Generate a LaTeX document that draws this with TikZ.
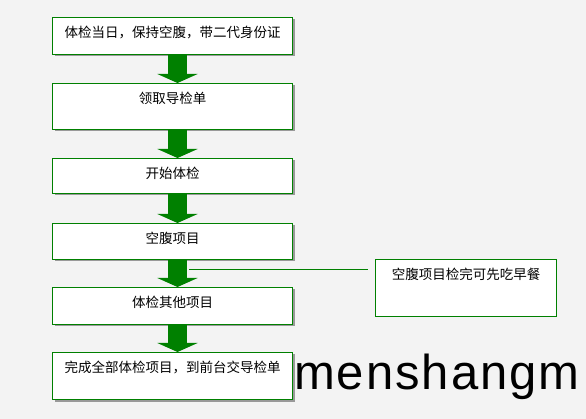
\documentclass[tikz,border=0pt]{standalone}
\usepackage{fontspec}
\newfontfamily\cjk{Noto Sans CJK SC}
\newfontfamily\wmfont[LetterSpace=4]{Liberation Sans}
\usepackage{tikz}
\usetikzlibrary{arrows.meta,positioning,calc,shadows}

\definecolor{flowgreen}{RGB}{0,128,0}
\definecolor{pagegray}{RGB}{243,243,243}

\tikzset{
    stepbox/.style={draw=flowgreen,line width=1pt,fill=white,anchor=north west,
        minimum width=240pt,inner xsep=0pt,inner ysep=10pt,text height=10pt,
        font=\cjk\fontsize{13.5pt}{15pt}\selectfont,
        drop shadow={shadow xshift=2pt,shadow yshift=-2pt,fill=black!40,opacity=1}},
    notebox/.style={draw=flowgreen,line width=1pt,fill=white,anchor=north west,
        minimum width=181pt,inner xsep=0pt,inner ysep=10pt,text height=10pt,
        font=\cjk\fontsize{13.5pt}{15pt}\selectfont},
    bigarrow/.style={draw=flowgreen,line width=19pt,-{Triangle[width=40pt,length=9pt,fill=flowgreen]}},
    callout/.style={draw=flowgreen,line width=1pt}
}

\begin{document}
\begin{tikzpicture}[x=1pt,y=-1pt]
        % Page
        \fill[pagegray] (0,0) rectangle (586,419);
        \useasboundingbox (0,0) rectangle (586,419);

        % Steps
        \node[stepbox,text depth=7pt] (b1) at (52,17) {体检当日，保持空腹，带二代身份证};
        \node[stepbox,text depth=16pt] (b2) at (52,83) {领取导检单};
        \node[stepbox,text depth=5pt] (b3) at (52,158) {开始体检};
        \node[stepbox,text depth=6pt] (b4) at (52,223) {空腹项目};
        \node[stepbox,text depth=7pt] (b5) at (52,287) {体检其他项目};
        \node[stepbox,text depth=17pt] (b6) at (52,352) {完成全部体检项目，到前台交导检单};

        % Note
        \node[notebox,text depth=27pt] (note) at (375,259) {空腹项目检完可先吃早餐};

        % Arcs
        \draw[bigarrow] ([xshift=5pt]b1.south) -- ([xshift=5pt]b2.north);
        \draw[bigarrow] ([xshift=5pt]b2.south) -- ([xshift=5pt]b3.north);
        \draw[bigarrow] ([xshift=5pt]b3.south) -- ([xshift=5pt]b4.north);
        \draw[bigarrow] ([xshift=5pt]b4.south) -- ([xshift=5pt]b5.north);
        \draw[bigarrow] ([xshift=5pt]b5.south) -- ([xshift=5pt]b6.north);

        \coordinate (co) at (189,270);
        \draw[callout,shorten >=7pt] (co) -- (co -| note.west);

        % Watermark
        \node[anchor=base west,inner sep=0pt,font=\wmfont\fontsize{49pt}{55pt}\selectfont] (mark) at (294,389) {menshangm};
    \end{tikzpicture}
\end{document}
